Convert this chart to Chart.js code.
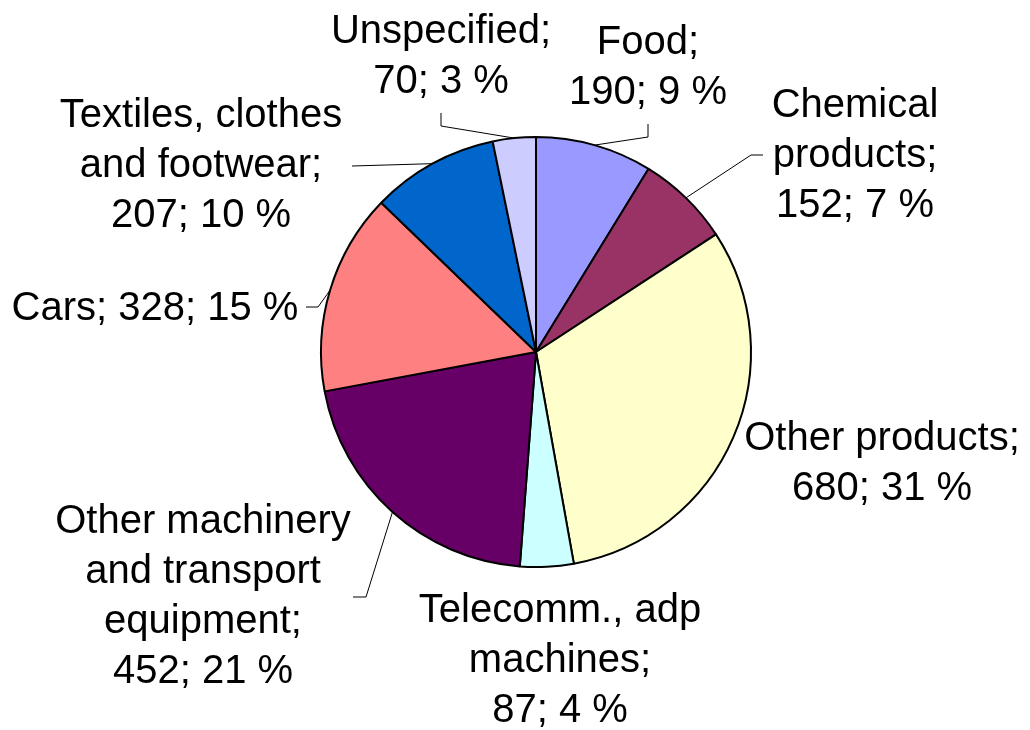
<!DOCTYPE html>
<html>
<head>
<meta charset="utf-8">
<title>Imports by product group</title>
<script src="https://cdn.jsdelivr.net/npm/chart.js@4/dist/chart.umd.min.js"></script>
<style>
  body { margin: 0; background: #fff; }
  canvas { display: block; }
</style>
</head>
<body>
<canvas id="stage" width="1030" height="730"></canvas>
<script>
// product groups, clockwise from the top
var categories = ["Food", "Chemical products", "Other products", "Telecomm., adp machines",
   "Other machinery and transport equipment", "Cars", "Textiles, clothes and footwear", "Unspecified"];
var values = [190, 152, 680, 87, 452, 328, 207, 70];
var colors = ["#9999FF", "#993366", "#FFFFCC", "#CCFFFF", "#660066", "#FF8080", "#0066CC", "#CCCCFF"];

// where each label sits: text centre x, first baseline, wrap width
var labelX = [648, 855, 882, 560, 203, 155, 201, 441];
var labelY = [54, 117, 450, 622, 533, 320, 127, 43];
var wrapW = [200, 300, 300, 300, 300, 400, 300, 260];
// leader lines: elbow point and end point (null = no line)
var leaderElbow = [[648,137], [751,155], null, null, [366,597], [318,307], null, [441,126]];
var leaderEnd = [[648,124], [763,155], null, null, [353,597], [306,307], [352,166], [441,113]];

var total = values.reduce((sum,element) => sum + element, 0);

function wrapText(ctx, text, w) {
   var words = text.split(" ");
   var lines = [];
   var cur = "";
   words.forEach(function(wd){
      var test = cur ? cur + " " + wd : wd;
      if (cur && ctx.measureText(test).width > w) {
         lines.push(cur);
         cur = wd;
      } else {
         cur = test;
      }
   });
   if (cur) lines.push(cur);
   return lines;
}

// draws "name; value; pct %" labels with leader lines
var pieLabels = {
   id: 'pieLabels',
   afterDatasetsDraw: function(chart) {
      var ctx = chart.ctx;
      var arcs = chart.getDatasetMeta(0).data;
      ctx.save();
      ctx.font = "40px 'Liberation Sans', Arial, sans-serif";
      ctx.fillStyle = "#000";
      ctx.textAlign = "center";
      ctx.textBaseline = "alphabetic";
      arcs.forEach(function(arc, i){
         var pct = Math.round(values[i] / total * 100);
         var tail = values[i] + "; " + pct + " %";
         var full = categories[i] + "; " + tail;
         var lines;
         if (ctx.measureText(full).width <= wrapW[i]) {
            lines = [full];
         } else {
            lines = wrapText(ctx, categories[i] + ";", wrapW[i]).concat([tail]);
         }
         lines.forEach(function(ln, k){
            ctx.fillText(ln, labelX[i], labelY[i] + k * 50);
         });

         if (leaderEnd[i]) {
            var mid = (arc.startAngle + arc.endAngle) / 2;
            var px = arc.x + Math.cos(mid) * arc.outerRadius;
            var py = arc.y + Math.sin(mid) * arc.outerRadius;
            ctx.beginPath();
            ctx.lineWidth = 1;
            ctx.strokeStyle = "#000";
            ctx.moveTo(px, py);
            if (leaderElbow[i]) ctx.lineTo(leaderElbow[i][0], leaderElbow[i][1]);
            ctx.lineTo(leaderEnd[i][0], leaderEnd[i][1]);
            ctx.stroke();
         }
      });
      ctx.restore();
   }
};

var canvas = document.getElementById('stage');
var chart = new Chart(canvas, {
   type: 'pie',
   data: {
      labels: categories,
      datasets: [{
         data: values,
         backgroundColor: colors,
         borderColor: "#000",
         borderWidth: 2
      }]
   },
   options: {
      responsive: false,
      animation: false,
      radius: 215,
      layout: { padding: { top: 137, bottom: 163, left: 300, right: 258 } },
      plugins: {
         legend: { display: false },
         tooltip: { enabled: false }
      }
   },
   plugins: [pieLabels]
});
</script>
</body>
</html>
